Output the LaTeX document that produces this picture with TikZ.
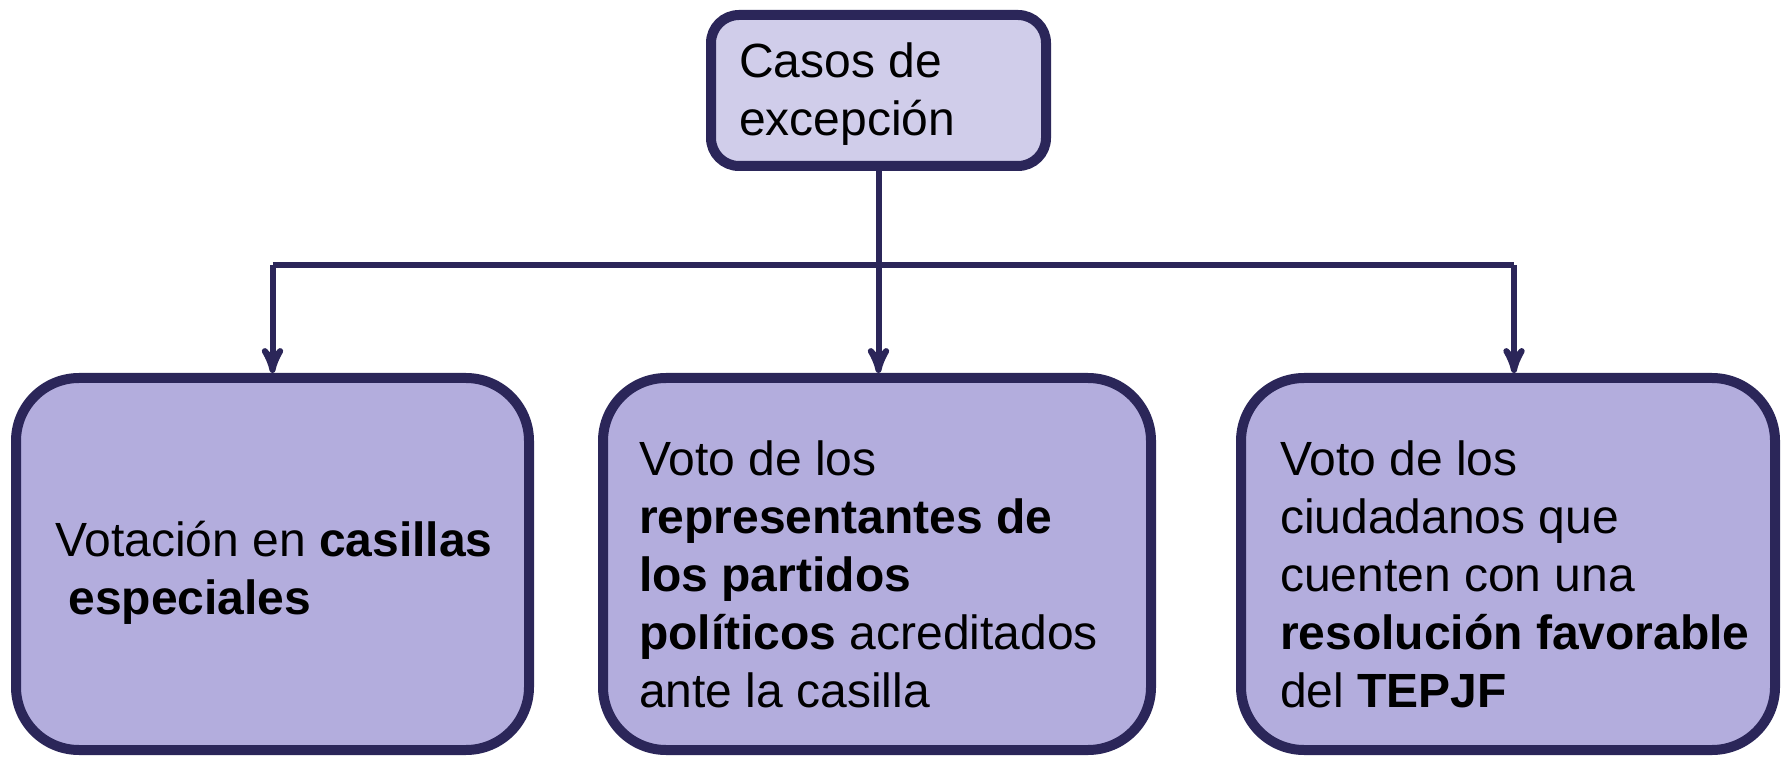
\documentclass[tikz,border=0pt]{standalone}
\usepackage{fontspec}
\setmainfont{Liberation Sans}
\usetikzlibrary{arrows,positioning}

\definecolor{borde}{HTML}{2B2659}
\definecolor{lila}{HTML}{D0CDEA}
\definecolor{lilaosc}{HTML}{B3ADDD}

\tikzset{
  caja/.style={draw=borde,line width=5pt,fill=lilaosc,rounded corners=31.5pt,
    minimum height=186pt},
  raiz/.style={draw=borde,line width=5pt,fill=lila,rounded corners=14pt,
    minimum width=167.5pt,minimum height=75.5pt},
  txt/.style={inner sep=0pt,align=left,font=\fontsize{24}{29}\selectfont}
}

\begin{document}
\begin{tikzpicture}[x=0.5pt,y=-0.5pt,>=stealth',line width=3pt,draw=borde]

                \useasboundingbox (0,0) rectangle (1781,758);

                \node[raiz] (casos) at (878.5,90.5) {};
                \node[txt] (tcasos) [right=15pt of casos.west,yshift=-2pt] {Casos de\\excepción};

                \node[caja,minimum width=256.5pt] (esp) at (272.5,564) {};
                \node[caja,minimum width=274pt] (rep) at (877,564) {};
                \node[caja,minimum width=267pt] (ciu) at (1508,564) {};

                \node[txt] (tesp) [right=20.5pt of esp.west,yshift=-4.5pt]
                  {Votación en \textbf{casillas}\\\ \textbf{especiales}};
                \node[txt] (trep) [right=19pt of rep.west,yshift=-5pt]
                  {Voto de los\\\textbf{representantes de}\\\textbf{los partidos}\\\textbf{políticos} acreditados\\ante la casilla};
                \node[txt] (tciu) [right=20.5pt of ciu.west,yshift=-5pt]
                  {Voto de los\\ciudadanos que\\cuenten con una\\\textbf{resolución favorable}\\del \textbf{TEPJF}};

                \coordinate (bar) at (casos.south |- 0,265);
                \coordinate (barl) at (esp.north |- bar);
                \coordinate (barr) at ([xshift=3pt]ciu.north |- bar);

                \draw[->,borde] (casos.south) -- (casos.south |- rep.north);
                \draw[borde] (barl) -- (barr);
                \draw[->,borde] (barl) -- (esp.north);
                \draw[->,borde] (barr) -- (barr |- ciu.north);

            \end{tikzpicture}
\end{document}
